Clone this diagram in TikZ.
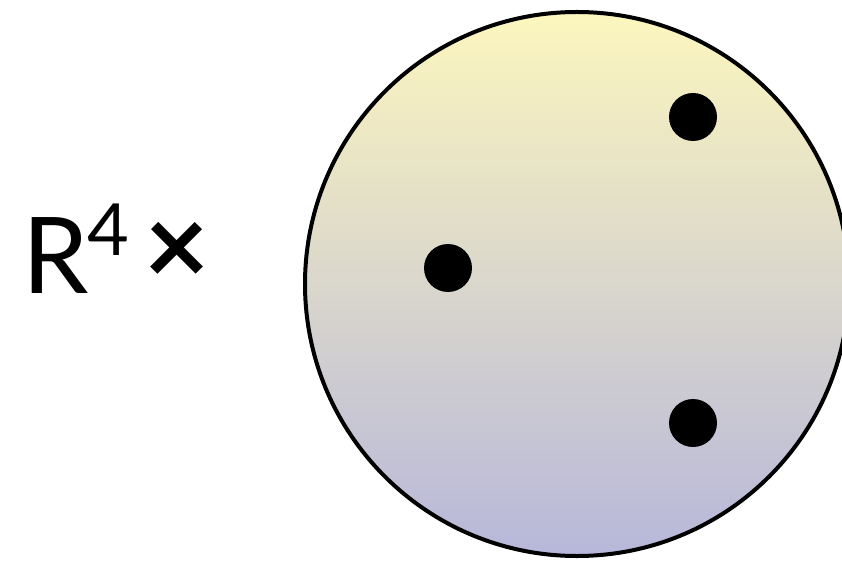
\documentclass[tikz,border=0pt]{standalone}
\usepackage{fontspec}
\setmainfont{Lato}
\definecolor{topc}{RGB}{252,246,190}
\definecolor{botc}{RGB}{183,183,218}
\begin{document}
\begin{tikzpicture}[x=1pt,y=1pt,
  dot/.style={circle,fill=black,inner sep=0pt,minimum size=48pt}]
\useasboundingbox (0,0) rectangle (842,560);
\clip (0,0) rectangle (842,560);
\shade[top color=topc,bottom color=botc] (577,276) circle (272);
\draw[black,line width=4pt] (577,276) circle (272);
\node[dot] (d1) at (693,443) {};
\node[dot] (d2) at (448,292) {};
\node[dot] (d3) at (693,137) {};
\node[anchor=base west,inner sep=0pt,font=\fontsize{106}{120}\selectfont] (R) at (22,267) {R};
\node[anchor=base west,inner sep=0pt,font=\fontsize{72}{80}\selectfont] (four) at (87,304) {4};
\node[inner sep=0pt,font=\bfseries\fontsize{112}{120}\selectfont] (times) at (177,306.5) {×};
\end{tikzpicture}
\end{document}
